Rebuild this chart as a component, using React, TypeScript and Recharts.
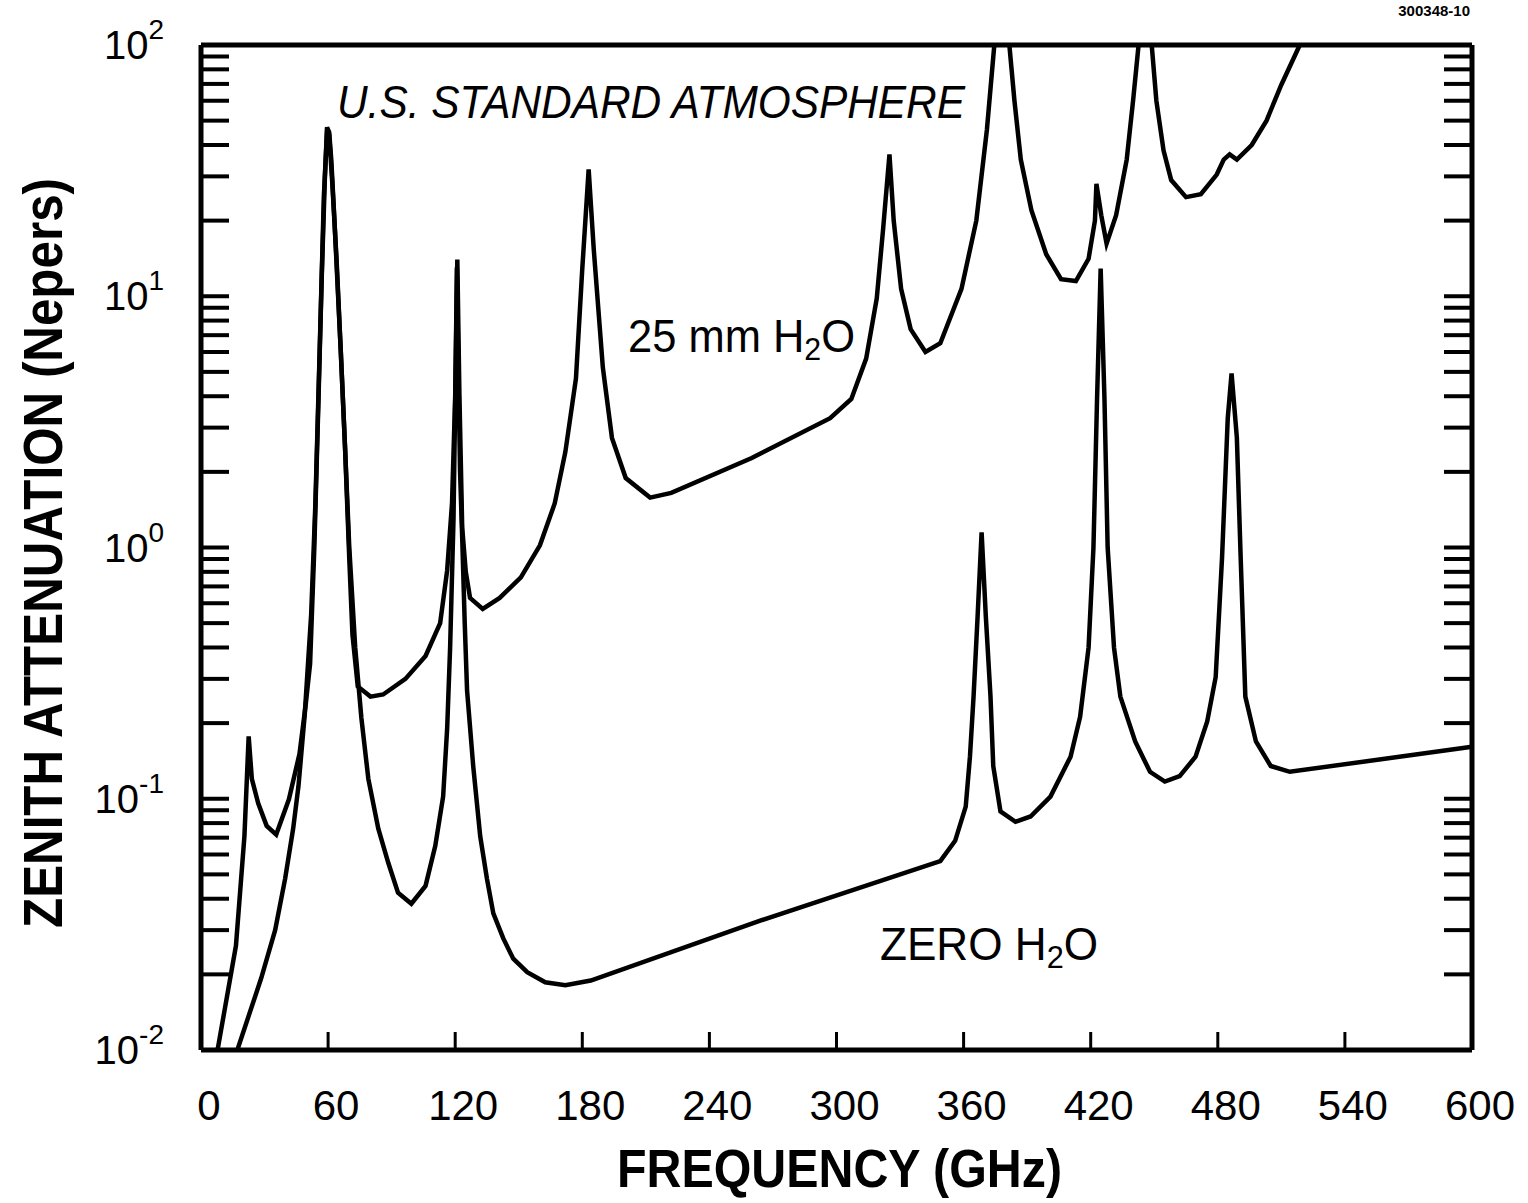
import { LineChart, Line, XAxis, YAxis } from 'recharts';

// frequency (GHz), zenith attenuation (Nepers)
const wetCurve: [number, number][] = [
  [3, 0.0085], [8, 0.0102], [16.5, 0.026], [20.5, 0.071], [22.5, 0.177], [24, 0.12], [27, 0.096],
  [31, 0.078], [35.5, 0.072], [41.5, 0.0995], [46.5, 0.151], [49.5, 0.24], [51.5, 0.344], [53.5, 1.0],
  [55.5, 4], [57, 12], [58.5, 30], [59.5, 47], [60.5, 45], [61.5, 35], [63, 20], [66, 6], [68, 2.5],
  [70, 0.9], [71.5, 0.45], [74, 0.28], [80, 0.255], [86, 0.26], [96.5, 0.3], [106, 0.37], [112.9, 0.5],
  [116.2, 0.81], [118.5, 1.5], [120, 4], [121, 14], [122, 4], [123.3, 1.2], [125, 0.8], [127, 0.63],
  [133, 0.57], [141, 0.63], [151, 0.76], [160, 1.02], [167, 1.5], [172, 2.4], [177, 4.7], [180, 12.9],
  [183, 32], [185.4, 15.4], [189.7, 5.2], [194, 2.73], [200.5, 1.89], [212, 1.58], [222, 1.65],
  [260, 2.27], [297, 3.27], [307, 3.9], [314, 5.65], [319, 9.8], [322, 18.5], [325, 36.7], [327, 20],
  [330.5, 10.7], [335, 7.4], [342, 6.0], [349, 6.5], [359, 10.7], [366, 20], [371, 46], [374.5, 100],
  [377, 250], [379, 400], [381.6, 100], [384, 60], [387, 35], [392, 22], [399, 14.7], [406, 11.7],
  [413, 11.5], [419, 14.1], [422, 20], [422.7, 28], [425, 21], [427.5, 16.2], [432, 21], [437, 35],
  [440, 60], [442.6, 100], [446, 300], [448.8, 100], [451, 60], [454.4, 38], [458, 29], [465, 24.8],
  [472, 25.5], [479.5, 30.5], [482.8, 35], [485.6, 36.7], [489, 35], [496, 40], [503, 50], [510, 69.5],
  [518.7, 100], [530, 170],
];

const dryCurve: [number, number][] = [
  [15, 0.008], [17.5, 0.0102], [28.4, 0.0193], [35, 0.03], [39.7, 0.048], [43.5, 0.076], [46, 0.112],
  [49, 0.218], [52, 0.54], [54, 1.5], [56, 6], [58, 25], [59.5, 45], [60.5, 44], [62, 28], [64, 14],
  [66, 6], [68, 2.5], [70, 1.0], [72.8, 0.4], [75.7, 0.21], [79, 0.12], [83.7, 0.076], [88.4, 0.0556],
  [93, 0.0423], [99.3, 0.0382], [106, 0.045], [110.6, 0.065], [114.3, 0.102], [116.2, 0.19],
  [117.6, 0.4], [119.2, 1.3], [120.2, 5], [120.8, 13], [121.5, 5], [122.3, 2], [123.3, 1.1],
  [124.5, 0.5], [125.6, 0.27], [128.5, 0.135], [131.8, 0.071], [135, 0.048], [138, 0.035],
  [142.7, 0.0278], [147.4, 0.0231], [154, 0.0204], [162.5, 0.0186], [172, 0.0181], [184, 0.0189],
  [264, 0.0327], [349, 0.0565], [356, 0.068], [361, 0.093], [363, 0.147], [364.7, 0.255],
  [366.6, 0.53], [368.5, 1.15], [370.5, 0.53], [372.7, 0.255], [374, 0.135], [377.4, 0.089],
  [384.5, 0.081], [391.6, 0.085], [401, 0.102], [410.5, 0.147], [415, 0.212], [419, 0.4],
  [421.3, 1.0], [423, 3.9], [424.7, 12.9], [426.5, 3.9], [428, 1.0], [431, 0.4], [434, 0.255],
  [441, 0.169], [448, 0.128], [455, 0.117], [462, 0.123], [469.5, 0.147], [475, 0.203], [479, 0.305],
  [482, 0.91], [484.7, 3.27], [486.5, 4.93], [489, 2.73], [490.8, 0.91], [493, 0.255], [498, 0.169],
  [505, 0.135], [514, 0.128], [600, 0.161],
];

const freqTicks = [0, 60, 120, 180, 240, 300, 360, 420, 480, 540, 600];

const attenTicks = [
  0.01, 0.02, 0.03, 0.04, 0.05, 0.06, 0.07, 0.08, 0.09,
  0.1, 0.2, 0.3, 0.4, 0.5, 0.6, 0.7, 0.8, 0.9,
  1, 2, 3, 4, 5, 6, 7, 8, 9,
  10, 20, 30, 40, 50, 60, 70, 80, 90,
  100,
];

const wetData = wetCurve.map(([f, v]) => ({ f, v }));
const dryData = dryCurve.map(([f, v]) => ({ f, v }));

const FONT = '"Liberation Sans", Arial, Helvetica, sans-serif';

const isDecade = (v: number) => Math.abs(Math.log10(v) - Math.round(Math.log10(v))) < 1e-6;

function LeftTick(props: any) {
  const { x, y, payload } = props;
  const v = payload.value;
  const major = isDecade(v);
  return (
    <g>
      <line x1={x} x2={x + 28} y1={y} y2={y} stroke="#000" strokeWidth={4} />
      {major && (
        <text x={164} y={y + 14} textAnchor="end" fontSize={40} fontFamily={FONT} fill="#000">
          10
          <tspan dy={-20} fontSize={28}>{Math.round(Math.log10(v))}</tspan>
        </text>
      )}
    </g>
  );
}

function RightTick(props: any) {
  const { x, y } = props;
  return <line x1={x - 28} x2={x} y1={y} y2={y} stroke="#000" strokeWidth={4} />;
}

function BottomTick(props: any) {
  const { x, y, payload } = props;
  return (
    <g>
      <line x1={x} x2={x} y1={y - 18} y2={y} stroke="#000" strokeWidth={3} />
      <text x={x + 8} y={y + 70} textAnchor="middle" fontSize={42} fontFamily={FONT} fill="#000">
        {payload.value}
      </text>
    </g>
  );
}

function TopTick(props: any) {
  const { x, y } = props;
  return <line x1={x} x2={x} y1={y} y2={y + 22} stroke="#000" strokeWidth={4} />;
}

export default function App() {
  const axisLine = { stroke: '#000', strokeWidth: 5 };
  return (
    <div style={{ position: 'absolute', left: 0, top: 0, width: 1528, height: 1203, background: '#fff' }}>
      <LineChart width={1528} height={1203} margin={{ top: 44, right: 55, bottom: 152, left: 200 }}>
        <XAxis
          xAxisId="bottom"
          type="number"
          dataKey="f"
          domain={[0, 600]}
          ticks={freqTicks}
          interval={0}
          height={1}
          tickSize={0}
          tickMargin={0}
          axisLine={axisLine}
          tickLine={false}
          tick={<BottomTick />}
        />
        <XAxis
          xAxisId="top"
          orientation="top"
          type="number"
          dataKey="f"
          domain={[0, 600]}
          ticks={freqTicks}
          interval={0}
          height={1}
          tickSize={0}
          tickMargin={0}
          axisLine={axisLine}
          tickLine={false}
          tick={<TopTick />}
        />
        <YAxis
          yAxisId="left"
          scale="log"
          domain={[0.01, 100]}
          allowDataOverflow
          ticks={attenTicks}
          interval={0}
          width={1}
          tickSize={0}
          tickMargin={0}
          axisLine={axisLine}
          tickLine={false}
          tick={<LeftTick />}
        />
        <YAxis
          yAxisId="right"
          orientation="right"
          scale="log"
          domain={[0.01, 100]}
          allowDataOverflow
          ticks={attenTicks}
          interval={0}
          width={1}
          tickSize={0}
          tickMargin={0}
          axisLine={axisLine}
          tickLine={false}
          tick={<RightTick />}
        />
        <Line
          xAxisId="bottom"
          yAxisId="left"
          data={wetData}
          dataKey="v"
          type="linear"
          stroke="#000"
          strokeWidth={4.5}
          dot={false}
          isAnimationActive={false}
        />
        <Line
          xAxisId="bottom"
          yAxisId="left"
          data={dryData}
          dataKey="v"
          type="linear"
          stroke="#000"
          strokeWidth={4.5}
          dot={false}
          isAnimationActive={false}
        />
      </LineChart>
      <svg
        width={1528}
        height={1203}
        style={{ position: 'absolute', left: 0, top: 0, pointerEvents: 'none' }}
        fontFamily={FONT}
      >
        <text x={1470} y={16} textAnchor="end" fontSize={15} fontWeight="bold">300348-10</text>
        <text x={337} y={118} fontSize={46} fontStyle="italic" textLength={628} lengthAdjust="spacingAndGlyphs">
          U.S. STANDARD ATMOSPHERE
        </text>
        <text x={628} y={352} fontSize={46} textLength={227} lengthAdjust="spacingAndGlyphs">
          25 mm H<tspan dy={8} fontSize={32}>2</tspan><tspan dy={-8}>O</tspan>
        </text>
        <text x={880} y={960} fontSize={46} textLength={218} lengthAdjust="spacingAndGlyphs">
          ZERO H<tspan dy={8} fontSize={32}>2</tspan><tspan dy={-8}>O</tspan>
        </text>
        <text x={617} y={1187} fontSize={54} fontWeight="bold" textLength={445} lengthAdjust="spacingAndGlyphs">
          FREQUENCY (GHz)
        </text>
        <text
          transform="translate(62,553) rotate(-90)"
          textAnchor="middle"
          fontSize={56}
          fontWeight="bold"
          textLength={750}
          lengthAdjust="spacingAndGlyphs"
        >
          ZENITH ATTENUATION (Nepers)
        </text>
      </svg>
    </div>
  );
}
